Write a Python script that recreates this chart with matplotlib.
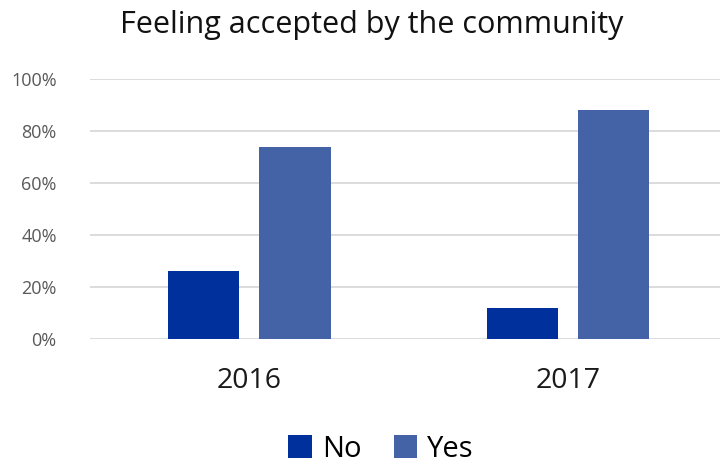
import matplotlib
matplotlib.use('Agg')
import matplotlib.pyplot as plt
import numpy as np

# data
years = ['2016', '2017']
no_vals = [26, 12]
yes_vals = [74, 88]
y_ticks = [0, 20, 40, 60, 80, 100]

plt.rcParams['font.family'] = ['Open Sans', 'DejaVu Sans']

c_no = '#00309C'
c_yes = '#4462A6'

fig = plt.figure(figsize=(7.2, 4.65), dpi=100)
ax = fig.add_axes([90 / 720, 1 - 339 / 465, 630 / 720, 260 / 465])

x = np.arange(len(years))
w = 0.223
off = 0.143
ax.bar(x - off, no_vals, width=w, color=c_no, label='No', zorder=3)
ax.bar(x + off, yes_vals, width=w, color=c_yes, label='Yes', zorder=3)

ax.set_ylim(0, 100)
ax.set_xlim(-0.5, 1.476)
ax.set_yticks(y_ticks)
ax.set_yticklabels([f'{v}%' for v in y_ticks], fontsize=13, color='#595959')
ax.set_xticks(x)
ax.set_xticklabels(years, fontsize=20.5, color='#1a1a1a')
ax.tick_params(axis='both', length=0)
ax.tick_params(axis='x', pad=20)
ax.tick_params(axis='y', pad=24)
ax.grid(axis='y', color='#D9D9D9', linewidth=1.3, zorder=0)
for s in ax.spines.values():
    s.set_visible(False)

fig.text(372 / 720, 1 - 25 / 465, 'Feeling accepted by the community',
         ha='center', va='center', fontsize=22, color='#111111')

fig.legend(loc='center', bbox_to_anchor=(381 / 720, 1 - 449 / 465), ncol=2,
           frameon=False, fontsize=21, handlelength=0.8, handleheight=0.8,
           handletextpad=0.35, columnspacing=1.1)

fig.savefig('out.png', dpi=100)
